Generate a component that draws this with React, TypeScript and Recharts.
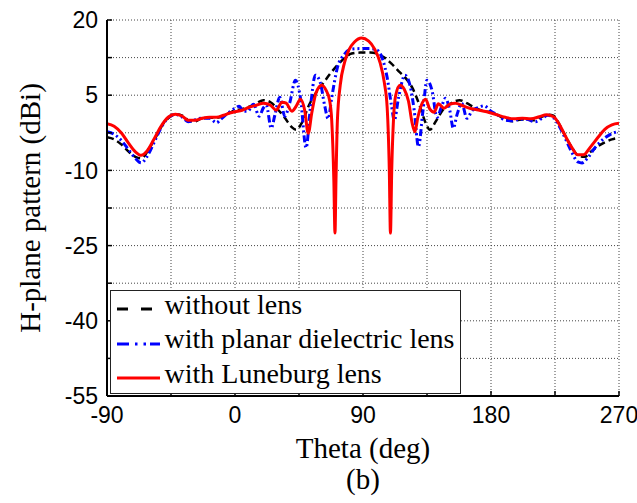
import { LineChart, Line, XAxis, YAxis, CartesianGrid, Legend, Label } from "recharts";

// theta (deg) and gain (dBi), one pair of arrays per curve
const blackTheta = [-90, -85, -80, -75, -70, -66, -60, -55, -50, -45, -41, -36, -32, -28, -24, -18, -13, -8, -3, 0, 5, 10, 15, 20, 25, 30, 35, 40, 43, 47, 52, 57, 62, 67, 72, 77, 82, 88, 95, 100, 105, 110, 115, 120, 125, 130, 134, 137, 141, 146, 152, 158, 163, 168, 175, 180, 185, 190, 195, 200, 205, 210, 215, 220, 224, 228, 232, 237, 242, 246, 250, 255, 260, 265, 270];
const blackDb = [-3.4, -3.8, -4.8, -6.2, -7.3, -7.6, -5.5, -3, -0.5, 0.8, 1.2, 0.8, -0.2, -0.2, 0.3, 0.5, 0.5, 0.9, 1.6, 2.0, 2.2, 2.7, 3.4, 4.0, 3.6, 2.2, 0.5, -1.4, -1.9, -0.5, 3.0, 5.5, 7.4, 9.3, 11, 12.4, 13.3, 13.5, 13.5, 13.3, 12.5, 11.3, 9.8, 8.4, 6.3, 2.8, -0.5, -1.9, -0.3, 2.0, 3.4, 4.0, 3.4, 2.6, 1.8, 1.6, 1.0, 0.2, -0.2, 0.1, 0.2, 0, 0.6, 1.1, 0.9, -0.8, -3, -5.5, -7.2, -7.3, -6.3, -5.2, -4.4, -3.8, -3.5];

const blueTheta = [-90, -85, -80, -75, -70, -66, -62, -57, -52, -47, -42, -37, -33, -29, -24, -18, -13, -10, -5, 0, 3, 6, 9, 13, 17, 20, 22, 25.5, 28, 31.5, 35, 38.5, 42.5, 46, 50, 53, 56.5, 60, 63, 65.5, 68, 72, 77, 82, 88, 95, 100, 104, 107, 110, 112, 115, 119.5, 123, 126, 129, 132, 135, 138.5, 142, 145, 148, 151, 153.5, 156, 159.5, 163, 167, 171, 175, 180, 185, 190, 195, 200, 205, 211, 216, 220, 224, 228, 232, 237, 241, 244, 248, 253, 258, 264, 270];
const blueDb = [-2.3, -2.8, -4.0, -5.8, -7.6, -8.5, -7.3, -4.5, -1.5, 0.5, 1.2, 0.6, -0.3, 0, 0.4, 0.4, -0.5, 0.2, 1.4, 2.4, 2.8, 1.8, 1.8, 3.2, 0.8, 2.5, 3.0, -1.6, 1.0, 4.6, 0.8, 3.5, 8.0, 4.5, -5.5, 2.5, 9.0, 7.5, 3.0, 0.3, 4.5, 10.5, 13.2, 14.2, 14.3, 14.3, 14.0, 12.0, 8.5, 3.0, 0.0, 4.5, 9.0, 7.0, 2.0, -5.3, 1.5, 8.0, 6.0, 0.6, 2.5, 4.4, 2.0, -1.6, 1.0, 3.4, 0.4, 2.0, 2.5, 2.9, 1.8, 1.0, 0.0, -0.1, 0.2, 0.2, -0.3, 0.4, 1.0, 0.5, -1.2, -3.5, -6.5, -8.3, -8.5, -7.5, -5.5, -4.0, -2.8, -2.2];

const redTheta = [-90, -85, -80, -75, -70, -66, -62, -57, -52, -47, -42, -37, -33, -28, -23, -18, -13, -8, -3, 0, 5, 10, 15, 20, 25, 29, 33, 36, 40, 43, 46, 49, 51.5, 54, 57, 61, 64, 66.5, 68, 69.5, 70.3, 71, 72, 74, 77, 80, 84, 89, 94, 98, 102, 105, 107, 108.5, 109.3, 110.2, 111.5, 113, 116, 119, 122, 124.5, 126.5, 128.5, 131, 134, 137, 140, 143, 147, 151, 155, 160, 165, 170, 177, 183, 190, 196, 202, 208, 214, 219, 224, 228, 232, 237, 241, 245, 250, 255, 260, 265, 270];
const redDb = [-0.7, -1.2, -2.5, -4.5, -6.3, -7.0, -6.2, -3.8, -1.2, 0.6, 1.2, 0.8, 0.0, 0.0, 0.4, 0.6, 0.6, 1.0, 1.5, 1.7, 2.0, 2.6, 3.0, 3.4, 3.0, 2.0, 3.6, 3.4, 1.8, 2.8, 4.2, 2.0, -2.6, 1.5, 5.5, 7.0, 6.0, 4.0, 0, -12, -22.5, -12, 0, 7.0, 11.5, 14, 15.6, 16.4, 15.8, 14.3, 11.5, 7.5, 2.5, -10, -22.5, -10, 0.5, 5.0, 7.0, 6.2, 3.8, -0.5, -2.3, 0.5, 3.0, 4.2, 2.2, 1.6, 3.3, 2.4, 3.2, 3.4, 2.9, 2.4, 2.1, 1.7, 1.2, 0.6, 0.3, 0.4, 0.3, 0.7, 1.1, 0.7, -0.8, -3, -5.5, -6.9, -6.9, -5.3, -3.5, -1.8, -0.9, -0.6];

const xTicks = [-90, -45, 0, 45, 90, 135, 180, 225, 270];
const yTicks = [-55, -47.5, -40, -32.5, -25, -17.5, -10, -2.5, 5, 12.5, 20];

const zip = (t: number[], v: number[]) => t.map((theta, i) => ({ theta, db: v[i] }));

const series = [
  { name: "without lens", data: zip(blackTheta, blackDb), color: "#000000", dash: "7 4", legendDash: "11 13", width: 2.5 },
  { name: "with planar dielectric lens", data: zip(blueTheta, blueDb), color: "#0000ff", dash: "7 3 2 3 2 3", legendDash: "12 6 2.5 6 2.5 4", width: 3 },
  { name: "with Luneburg lens", data: zip(redTheta, redDb), color: "#ff0000", dash: undefined, legendDash: undefined, width: 3 },
];

const serif = "'Liberation Serif', 'Times New Roman', serif";
const sans = "'Liberation Sans', Arial, sans-serif";
const tickStyle = { fontFamily: sans, fontSize: 23, fill: "#000" };

const renderLegend = () => (
  <div
    style={{
      width: 351,
      height: 104,
      boxSizing: "border-box",
      border: "1.5px solid #222",
      background: "#fff",
      paddingTop: 1,
      fontFamily: serif,
      fontSize: 28,
      color: "#000",
    }}
  >
    {series.map((s) => (
      <div key={s.name} style={{ display: "flex", alignItems: "center", height: 34.5 }}>
        <svg width={53.5} height={10} style={{ flex: "none" }}>
          <line x1={6} x2={49} y1={5} y2={5} stroke={s.color} strokeWidth={3} strokeDasharray={s.legendDash} />
        </svg>
        <span style={{ whiteSpace: "nowrap", position: "relative", top: -4.5 }}>{s.name}</span>
      </div>
    ))}
  </div>
);

export default function App() {
  return (
    <div style={{ position: "absolute", left: 0, top: 0, background: "#fff" }}>
      <LineChart width={637} height={503} margin={{ top: 20, right: 18, left: 0, bottom: 0 }}>
        <CartesianGrid stroke="#444" strokeDasharray="1 2" strokeWidth={1} />
        <XAxis
          dataKey="theta"
          type="number"
          domain={[-90, 270]}
          ticks={xTicks}
          interval={0}
          height={107}
          allowDataOverflow
          tickSize={-5}
          tickMargin={16}
          tick={tickStyle}
          tickLine={{ stroke: "#000", strokeWidth: 1.5 }}
          axisLine={{ stroke: "#000", strokeWidth: 2 }}
          tickFormatter={(v: number) => (v % 90 === 0 ? String(v) : "")}
        >
          <Label value="Theta (deg)" position="insideTop" offset={41} style={{ fontFamily: serif, fontSize: 29, fill: "#000" }} />
          <Label value="(b)" position="insideTop" offset={72} style={{ fontFamily: serif, fontSize: 29, fill: "#000" }} />
        </XAxis>
        <XAxis
          xAxisId="top"
          orientation="top"
          type="number"
          domain={[-90, 270]}
          ticks={xTicks}
          interval={0}
          height={0}
          tickSize={-5}
          tickFormatter={() => ""}
          tickLine={{ stroke: "#000", strokeWidth: 1.5 }}
          axisLine={{ stroke: "#000", strokeWidth: 2 }}
        />
        <YAxis
          type="number"
          domain={[-55, 20]}
          ticks={yTicks}
          interval={0}
          width={107}
          allowDataOverflow
          tickSize={-5}
          tickMargin={14}
          tick={tickStyle}
          tickLine={{ stroke: "#000", strokeWidth: 1.5 }}
          axisLine={{ stroke: "#000", strokeWidth: 2 }}
          tickFormatter={(v: number) => ((v + 55) % 15 === 0 ? String(v) : "")}
          label={{
            value: "H-plane pattern (dBi)",
            angle: -90,
            position: "insideLeft",
            offset: 30,
            style: { textAnchor: "middle", fontFamily: serif, fontSize: 29, fill: "#000" },
          }}
        />
        <YAxis
          yAxisId="right"
          orientation="right"
          type="number"
          domain={[-55, 20]}
          ticks={yTicks}
          interval={0}
          width={0}
          tickSize={-5}
          tickFormatter={() => ""}
          tickLine={{ stroke: "#000", strokeWidth: 1.5 }}
          axisLine={{ stroke: "#000", strokeWidth: 2 }}
        />
        {series.map((s) => (
          <Line
            key={s.name}
            name={s.name}
            data={s.data}
            dataKey="db"
            type="monotone"
            stroke={s.color}
            strokeWidth={s.width}
            strokeDasharray={s.dash}
            dot={false}
            activeDot={false}
            isAnimationActive={false}
          />
        ))}
        <Legend
          layout="vertical"
          align="center"
          verticalAlign="middle"
          content={renderLegend}
          wrapperStyle={{ left: 110, top: 290, width: 351, height: 104 }}
        />
      </LineChart>
    </div>
  );
}
